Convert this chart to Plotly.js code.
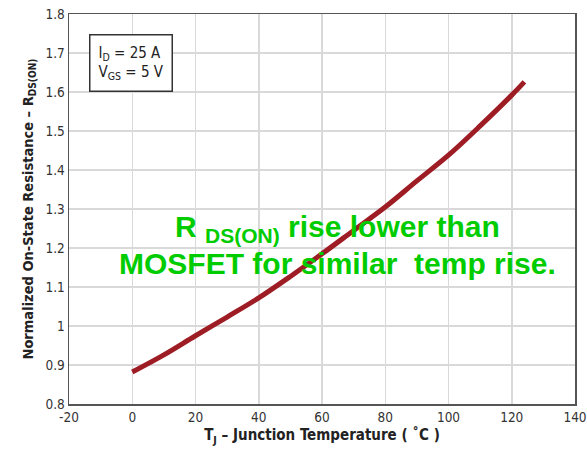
<!DOCTYPE html>
<html>
<head>
<meta charset="utf-8">
<script src="https://cdn.plot.ly/plotly-3.0.1.min.js"></script>
<style>
  html, body { margin: 0; padding: 0; background: #fff; }
  #chart { width: 587px; height: 454px; }
</style>
</head>
<body>
<div id="chart"></div>
<script>
// Junction temperature (°C)
const temperature = [0, 10, 20, 30, 40, 50, 60, 70, 80, 90, 100, 110, 120, 124];
// Normalized on-state resistance
const rdsOn = [0.882, 0.926, 0.975, 1.023, 1.072, 1.127, 1.185, 1.245, 1.305, 1.372, 1.438, 1.513, 1.592, 1.626];

const xTickVals = [-20, 0, 20, 40, 60, 80, 100, 120, 140];
const xTickText = ['-20', '0', '20', '40', '60', '80', '100', '120', '140'];
const yTickVals = [0.8, 0.9, 1.0, 1.1, 1.2, 1.3, 1.4, 1.5, 1.6, 1.7, 1.8];
const yTickText = ['0.8', '0.9', '1', '1.1', '1.2', '1.3', '1.4', '1.5', '1.6', '1.7', '1.8'];

const condFont = '"Liberation Sans Narrow", "DejaVu Sans Condensed", "Roboto Condensed", sans-serif';

const trace = {
  x: temperature,
  y: rdsOn,
  type: 'scatter',
  mode: 'lines',
  line: { color: '#9E1C24', width: 5, shape: 'spline' },
  hoverinfo: 'skip'
};

const layout = {
  width: 587,
  height: 454,
  margin: { l: 69, r: 12, t: 14, b: 50 },
  paper_bgcolor: '#ffffff',
  plot_bgcolor: '#ffffff',
  showlegend: false,
  xaxis: {
    range: [-20, 140],
    tickvals: xTickVals,
    ticktext: xTickText,
    showgrid: true,
    gridcolor: '#d9d9d9',
    gridwidth: 1.5,
    zeroline: false,
    showline: true,
    linecolor: '#555555',
    linewidth: 1.5,
    mirror: true,
    ticks: '',
    tickfont: { family: condFont, size: 13.5, color: '#333333' },
    title: {
      text: 'T<sub>J</sub> – Junction Temperature ( ˚C )',
      font: { family: condFont, size: 15, color: '#222222', weight: 'bold' },
      standoff: 6
    }
  },
  yaxis: {
    range: [0.8, 1.8],
    tickvals: yTickVals,
    ticktext: yTickText,
    showgrid: true,
    gridcolor: '#d9d9d9',
    gridwidth: 1.5,
    zeroline: false,
    showline: true,
    linecolor: '#555555',
    linewidth: 1.5,
    mirror: true,
    ticks: '',
    tickfont: { family: condFont, size: 13.5, color: '#333333' },
    title: {
      text: 'Normalized On-State Resistance – R<sub>DS(ON)</sub>',
      font: { family: condFont, size: 14.5, color: '#222222', weight: 'bold' },
      standoff: 8
    }
  },
  annotations: [
    {
      xref: 'paper', yref: 'paper',
      x: 0.04, y: 0.95, xanchor: 'left', yanchor: 'top',
      text: 'I<sub>D</sub> = 25 A<br>V<sub>GS</sub> = 5 V',
      align: 'left',
      showarrow: false,
      font: { family: condFont, size: 15, color: '#222222' },
      bgcolor: '#ffffff',
      bordercolor: '#333333',
      borderwidth: 1.5,
      borderpad: 8
    },
    {
      xref: 'paper', yref: 'paper',
      x: 0.53, y: 0.45, xanchor: 'center', yanchor: 'middle',
      text: 'R <sub>DS(ON)</sub> rise lower than',
      showarrow: false,
      font: { family: 'Liberation Sans, Arial, sans-serif', size: 30, color: '#00CC00', weight: 'bold' }
    },
    {
      xref: 'paper', yref: 'paper',
      x: 0.53, y: 0.36, xanchor: 'center', yanchor: 'middle',
      text: 'MOSFET for similar&nbsp; temp rise.',
      showarrow: false,
      font: { family: 'Liberation Sans, Arial, sans-serif', size: 30, color: '#00CC00', weight: 'bold' }
    }
  ]
};

Plotly.newPlot('chart', [trace], layout, { displayModeBar: false, staticPlot: true });
</script>
</body>
</html>
